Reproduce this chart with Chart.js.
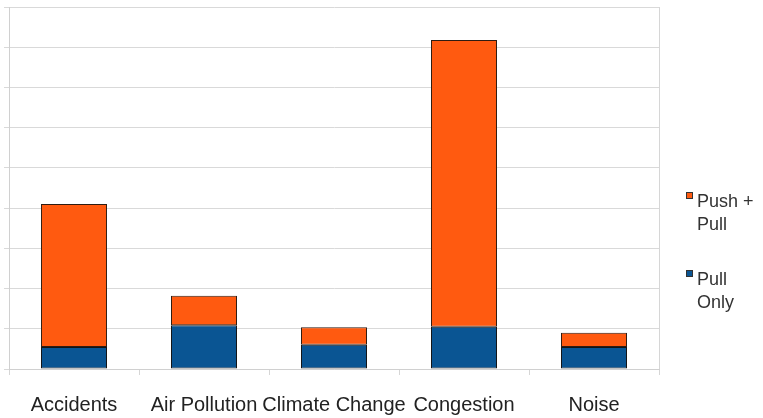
<!DOCTYPE html>
<html>
<head>
<meta charset="utf-8">
<script src="https://cdn.jsdelivr.net/npm/chart.js@4/dist/chart.umd.min.js"></script>
<style>
  html, body { margin: 0; padding: 0; background: #fff; }
  canvas { display: block; }
</style>
</head>
<body>
<canvas id="impactChart" width="763" height="418"></canvas>
<script>
// categories and values (1 unit = 1 gridline step)
const categories = ['Accidents', 'Air Pollution', 'Climate Change', 'Congestion', 'Noise'];
const pullOnly = [0.55, 1.09, 0.6, 1.05, 0.55];
const pushPull = [3.55, 0.73, 0.44, 7.13, 0.35];

const orange = '#ff5a10';
const blue = '#0a5593';

// right edge of the plot + the wrapped legend on the right
const framePlugin = {
  id: 'frame',
  beforeDatasetsDraw(chart) {
    const { ctx, chartArea: a } = chart;
    ctx.save();
    ctx.strokeStyle = '#d6d6d6';
    ctx.lineWidth = 1;
    ctx.beginPath();
    ctx.moveTo(a.right + 0.5, a.top);
    ctx.lineTo(a.right + 0.5, a.bottom);
    ctx.stroke();
    ctx.restore();
  },
  afterDraw(chart) {
    const { ctx } = chart;
    const items = chart.data.datasets.slice().reverse();
    const x = 686;
    let y = 192;
    ctx.save();
    ctx.font = '18px "Liberation Sans", Arial, sans-serif';
    ctx.textBaseline = 'alphabetic';
    items.forEach(ds => {
      ctx.fillStyle = ds.backgroundColor;
      ctx.fillRect(x, y, 7, 7);
      ctx.strokeStyle = '#333';
      ctx.lineWidth = 1;
      ctx.strokeRect(x + 0.5, y + 0.5, 6, 6);
      const cut = ds.label.lastIndexOf(' ');
      const lines = [ds.label.slice(0, cut), ds.label.slice(cut + 1)];
      ctx.fillStyle = '#333';
      lines.forEach((t, i) => ctx.fillText(t, x + 11, y + 15 + i * 23));
      y += 78;
    });
    ctx.restore();
  }
};

const ctx = document.getElementById('impactChart');
new Chart(ctx, {
  type: 'bar',
  data: {
    labels: categories,
    datasets: [
      {
        label: 'Pull Only',
        data: pullOnly,
        backgroundColor: blue,
        borderColor: '#151515',
        borderWidth: 1,
        borderSkipped: false,
      },
      {
        label: 'Push + Pull',
        data: pushPull,
        backgroundColor: orange,
        borderColor: '#2e1c12',
        borderWidth: 1,
        borderSkipped: false,
      }
    ]
  },
  options: {
    responsive: false,
    animation: false,
    layout: {
      padding: { left: 4, right: 104, top: 7, bottom: 0 },
    },
    datasets: {
      bar: { categoryPercentage: 1, barPercentage: 0.508 },
    },
    scales: {
      x: {
        stacked: true,
        afterFit(scale) { scale.height = 49; },
        grid: {
          offset: true,
          drawOnChartArea: false,
          color: '#d6d6d6',
          tickLength: 6,
        },
        border: { color: '#d0d0d0' },
        ticks: {
          autoSkip: false,
          maxRotation: 0,
          minRotation: 0,
          padding: 18,
          color: '#222',
          font: { family: '"Liberation Sans", Arial, sans-serif', size: 20 },
        },
      },
      y: {
        stacked: true,
        min: 0,
        max: 9,
        grid: {
          color: '#d9d9d9',
          tickLength: 5,
        },
        border: { color: '#d0d0d0' },
        ticks: { display: false, stepSize: 1 },
      },
    },
    plugins: {
      legend: { display: false },
      tooltip: { enabled: false },
    },
  },
  plugins: [framePlugin],
});
</script>
</body>
</html>
